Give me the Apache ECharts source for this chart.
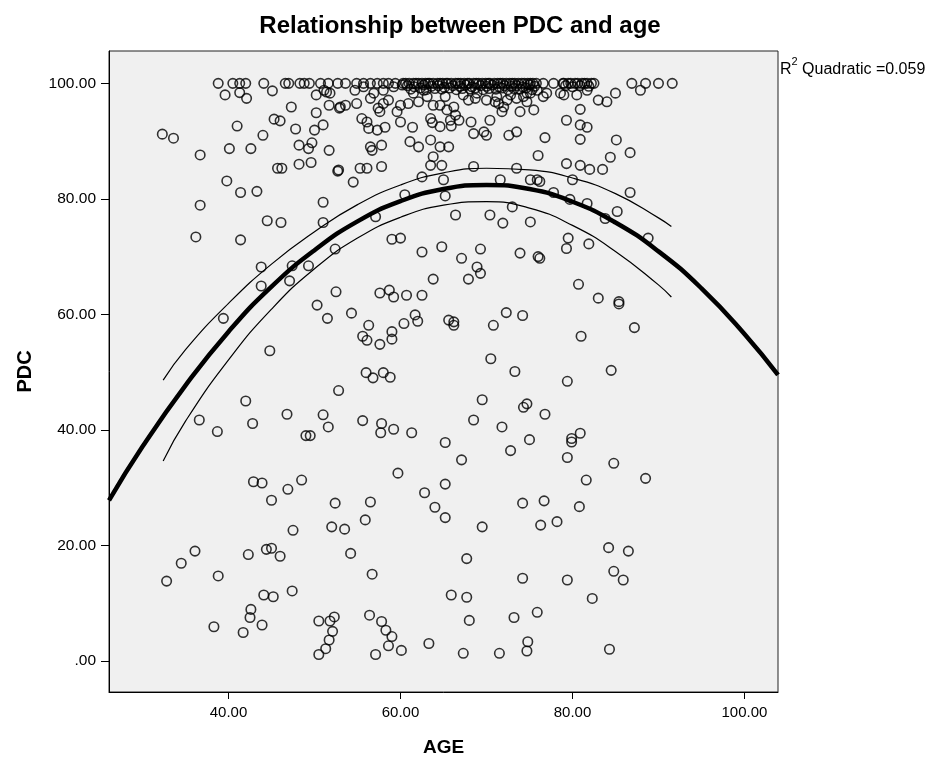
<!DOCTYPE html>
<html>
<head>
<meta charset="utf-8">
<script src="https://cdn.jsdelivr.net/npm/echarts@6/dist/echarts.min.js"></script>
<style>html,body{margin:0;padding:0;background:#fff;}#chart{width:929px;height:758px;}</style>
</head>
<body>
<div id="chart"></div>
<script>
// ---- Data ----
var titleText = 'Relationship between PDC and age';
var xName = 'AGE';
var yName = 'PDC';
var r2Label = 'R';
var r2Sup = '2';
var r2Rest = ' Quadratic =0.059';

var xTicks = [40, 60, 80, 100];
var xTickLabels = ['40.00', '60.00', '80.00', '100.00'];
var yTicks = [0, 20, 40, 60, 80, 100];
var yTickLabels = ['.00', '20.00', '40.00', '60.00', '80.00', '100.00'];

// points at PDC = 100 (top row)
var topRowAges = [38.8, 40.5, 41.3, 42.0, 44.1, 46.6, 47.0, 48.3, 48.8, 49.4, 50.7, 51.6, 52.7, 53.6, 54.9, 55.7, 56.5, 57.3, 58.0, 58.6, 59.4,
  60.3, 60.6, 61.0, 61.5, 61.8, 62.1, 62.5, 62.9, 63.2, 63.4, 63.8, 64.3, 64.6, 64.9, 65.3, 65.5, 65.9, 66.4, 66.7, 67.0, 67.4, 67.8, 68.0, 68.5,
  68.8, 69.1, 69.5, 69.9, 70.2, 70.4, 70.9, 71.3, 71.6, 71.9, 72.3, 72.7, 73.0, 73.3, 73.7, 74.1, 74.4, 74.8, 75.1, 75.4, 75.8,
  76.6, 77.8, 78.9, 79.0, 79.5, 79.8, 80.3, 80.6, 81.1, 81.4, 81.7, 82.2, 82.5, 86.9, 88.5, 90.0, 91.6];
// points just under the top row (PDC about 99.5)
var nearTopAges = [60.8, 61.6, 62.7, 63.6, 64.4, 65.1, 66.1, 66.9, 67.6, 68.3, 69.3, 70.0, 70.7, 71.5, 72.1, 72.9, 73.5, 74.2, 75.0, 75.6, 79.2, 80.0, 80.9, 81.9,
  61.2, 62.3, 63.0, 64.0, 64.8, 65.7, 66.5, 67.2, 68.1, 68.7, 69.6, 70.3, 71.1, 71.8, 72.5, 73.2, 73.9, 74.6, 75.3];
var nearTopPdc = [99.6, 99.4, 99.7, 99.5, 99.6, 99.3, 99.6, 99.5, 99.7, 99.4, 99.6, 99.5, 99.7, 99.4, 99.6, 99.5, 99.6, 99.4, 99.7, 99.5, 99.6, 99.4, 99.6, 99.5,
  99.0, 99.2, 98.9, 99.1, 99.0, 99.2, 98.9, 99.1, 99.0, 99.2, 98.9, 99.1, 99.0, 99.2, 98.9, 99.1, 99.0, 99.2, 98.9];

// all other points (age, PDC)
var otherAges = [
  39.6, 41.3, 42.1, 45.1, 50.2, 51.4, 51.1, 51.8, 47.3, 51.7, 52.9, 50.2, 45.3, 46.0, 41.0, 47.8, 50.0, 51.0, 32.3, 33.6, 44.0, 36.7, 40.1, 42.6, 48.2, 49.3, 49.7, 51.7,
  45.7, 46.2, 48.2, 49.6, 52.7, 39.8, 41.4, 43.3, 36.7, 51.0, 44.5, 46.1, 51.0, 36.2, 41.4, 52.4,
  53.0, 53.6, 54.9, 56.5, 57.4, 57.6, 58.0, 58.6, 59.6, 60.0, 60.9, 55.5, 56.1, 56.3, 57.3, 58.2, 60.0, 61.4, 62.1, 63.1, 63.8, 63.5, 63.7, 64.6, 65.4, 65.8,
  66.4, 66.8, 66.2, 64.6, 65.9, 68.2, 68.5, 67.9, 68.7, 69.7, 70.0, 70.4, 71.0, 71.4, 72.0, 71.8, 72.4, 72.6, 73.5, 73.9, 74.7, 75.5, 74.3, 76.8, 76.6, 75.1, 79.3,
  61.1, 62.1, 63.5, 64.6, 65.6, 56.5, 56.7, 57.8, 63.8, 63.5, 64.8, 52.8, 55.3, 56.1, 57.8, 54.5, 62.5, 65.0, 68.5, 73.5, 76.0, 71.6, 75.1, 75.9, 60.5, 65.2,
  57.1, 66.4, 70.4, 71.9, 73.0, 75.1, 59.0, 60.0, 62.5, 64.8, 67.1, 69.3, 73.9, 76.0,
  54.7, 55.7, 56.9, 58.0, 59.2, 60.2, 61.5, 62.7, 65.2, 67.3, 68.9, 70.0, 71.2, 72.8, 73.5, 74.7, 75.9, 77.0, 78.6,
  79.0, 80.5, 81.7, 83.0, 84.0, 85.0, 87.9, 80.9, 80.9, 81.7, 80.9, 85.1, 86.7, 84.4, 79.3, 80.9, 82.0, 83.5, 80.0, 86.7, 79.7, 81.7, 85.2, 83.8, 88.8, 79.5, 79.3, 81.9,
  76.2, 77.8, 76.2, 80.7, 83.0, 85.4, 85.4,
  87.2, 81.0, 84.5, 79.4, 80.9, 79.9, 79.9, 79.4, 84.8,
  81.6, 88.5, 80.8, 84.2, 86.5, 84.8, 85.9, 79.4, 82.3, 84.3,
  67.1, 59.7, 62.8, 65.2, 64.0, 65.2, 52.4, 56.5, 55.9, 52.0, 53.5, 69.5, 74.2, 76.7, 76.3, 78.2, 54.2, 67.7, 56.7, 74.2, 65.9, 67.7, 68.0, 73.2, 75.9,
  56.4, 57.8, 58.3, 59.0, 58.6, 60.1, 57.1, 63.3, 67.3, 71.5, 74.8, 74.7, 50.5, 51.3, 51.7, 52.1, 51.8, 52.3, 50.5,
  42.9, 43.9, 45.0, 46.9, 48.5, 47.5, 36.1, 34.5, 32.8, 38.8, 42.3, 44.4, 45.0, 46.0, 47.4, 44.1, 45.2, 42.6, 42.5, 38.3, 41.7, 43.9,
  43.8, 47.4, 49.3, 43.8, 47.1, 52.5, 39.4, 50.3, 51.5, 44.8, 52.8, 42.0, 36.6, 38.7, 42.8, 46.8, 51.0, 51.6, 49.0, 49.5,
  68.9, 69.3, 67.9, 63.8, 57.6, 58.7, 59.2, 60.7, 62.5, 54.3, 56.3, 55.6, 56.1, 57.6, 59.0, 59.0, 60.4, 61.7, 62.0, 65.6, 66.2, 66.2, 70.8, 72.3, 74.2,
  70.5, 73.3, 56.0, 56.8, 58.0, 58.8, 69.5, 74.7, 74.3, 76.8, 68.5, 71.8, 75.0, 55.6, 57.8, 57.7, 59.2, 61.3, 65.2, 72.8
];
var otherPdc = [
  98.0, 98.4, 97.4, 98.7, 98.0, 98.5, 98.8, 98.3, 95.9, 96.2, 95.7, 94.9, 93.8, 93.5, 92.6, 92.1, 91.9, 92.8, 91.2, 90.5, 91.0, 87.6, 88.7, 88.7, 89.3, 88.7, 89.7, 88.4,
  85.3, 85.3, 86.0, 86.3, 84.8, 83.1, 81.1, 81.3, 78.9, 79.4, 76.2, 75.9, 75.9, 73.4, 72.9, 71.3,
  95.9, 96.2, 96.5, 97.4, 95.7, 95.1, 96.5, 97.1, 95.1, 96.2, 96.5, 93.9, 93.3, 92.2, 91.9, 92.4, 93.3, 92.4, 96.8, 97.7, 96.2, 93.9, 93.2, 96.2, 95.4, 93.6,
  94.5, 93.6, 95.9, 92.5, 92.6, 93.3, 91.3, 97.1, 97.4, 91.6, 91.0, 93.6, 96.8, 96.5, 95.9, 95.1, 97.1, 91.0, 91.6, 95.1, 96.8, 95.4, 97.7, 90.6, 97.7, 98.3, 93.6,
  89.9, 89.0, 90.2, 89.0, 89.0, 89.0, 88.4, 89.3, 87.3, 85.8, 85.8, 85.0, 85.3, 85.3, 85.6, 82.9, 83.8, 83.3, 85.6, 85.3, 87.5, 83.3, 83.3, 83.3, 80.7, 80.5,
  76.9, 77.2, 77.2, 75.8, 78.6, 76.0, 73.0, 73.2, 70.8, 71.7, 69.7, 71.3, 70.6, 70.0,
  98.8, 99.4, 98.3, 98.8, 99.4, 99.7, 98.3, 98.8, 97.7, 98.0, 98.3, 97.1, 97.7, 98.0, 97.4, 98.3, 98.8, 98.3, 98.3,
  98.0, 98.0, 98.8, 97.1, 96.8, 98.3, 98.8, 95.5, 92.8, 92.4, 90.3, 90.2, 88.0, 87.2, 86.1, 85.8, 85.1, 85.1, 83.3, 81.1, 79.9, 79.2, 77.8, 76.6, 73.2, 73.2, 71.4, 72.2,
  83.0, 81.1, 69.7, 65.2, 62.8, 62.2, 61.8,
  57.7, 56.2, 50.3, 48.4, 39.4, 38.5, 37.9, 35.2, 34.2,
  31.3, 31.6, 26.7, 19.6, 19.0, 15.5, 14.0, 14.0, 10.8, 2.0,
  34.8, 32.5, 29.1, 30.6, 26.6, 24.8, 27.3, 27.5, 24.4, 23.2, 22.8, 23.2, 27.3, 27.7, 23.5, 24.1, 18.6, 17.7, 15.0, 14.3, 11.4, 11.0, 7.0, 7.5, 8.4,
  7.9, 6.8, 5.3, 4.2, 2.6, 1.8, 1.1, 3.0, 1.3, 1.3, 3.3, 1.7, 1.1, 2.1, 3.6, 5.1, 6.9, 7.6, 6.9,
  31.0, 30.8, 27.8, 29.7, 31.3, 22.6, 19.0, 16.9, 13.8, 14.7, 18.4, 19.3, 19.5, 18.1, 12.1, 11.4, 11.1, 8.9, 7.5, 5.9, 4.9, 6.2,
  68.2, 68.4, 68.4, 64.9, 65.8, 63.9, 59.3, 61.6, 59.3, 53.7, 46.8, 45.0, 41.7, 39.7, 41.1, 42.7, 42.6, 40.5, 39.0, 39.0,
  68.2, 67.1, 66.1, 66.1, 63.7, 64.2, 63.0, 63.3, 63.3, 60.2, 58.1, 56.2, 55.5, 54.8, 57.0, 55.7, 58.4, 59.9, 58.8, 59.0, 58.7, 58.1, 58.1, 60.3, 59.8,
  52.3, 50.1, 49.9, 49.0, 49.9, 49.1, 45.2, 44.5, 43.9, 42.7, 41.7, 40.5, 38.3, 41.6, 41.1, 39.5, 40.1, 39.5, 37.8, 36.4
];

// quadratic fit line
var fitAges = [26.1, 30, 35, 40, 45, 50, 55, 60, 65, 70, 75, 80, 85, 90, 95, 100, 103.9];
var fitPdc = [27.8, 37.1, 47.7, 57.0, 64.8, 71.1, 76.1, 79.6, 81.7, 82.4, 81.7, 79.5, 75.9, 70.9, 64.5, 56.6, 49.5];
// confidence band lines
var bandAges = [32.4, 35, 40, 45, 50, 55, 60, 65, 70, 75, 80, 85, 90, 91.5];
var upperPdc = [48.6, 53.9, 61.9, 68.7, 74.3, 79.0, 82.4, 84.5, 85.3, 85.0, 83.6, 80.9, 76.7, 75.2];
var lowerPdc = [34.6, 41.5, 52.1, 60.9, 67.9, 73.2, 76.8, 78.9, 79.5, 78.4, 75.4, 70.9, 65.1, 63.0];

// ---- Build ----
function zip(a, b) { var out = []; for (var i = 0; i < a.length; i++) out.push([a[i], b[i]]); return out; }
var scatterData = [];
topRowAges.forEach(function (a) { scatterData.push([a, 100]); });
scatterData = scatterData.concat(zip(nearTopAges, nearTopPdc), zip(otherAges, otherPdc));

var FONT = '"Liberation Sans", Arial, sans-serif';
var chart = echarts.init(document.getElementById('chart'), null, { renderer: 'canvas' });
chart.setOption({
  animation: false,
  backgroundColor: '#ffffff',
  graphic: [{
    type: 'text', x: 460, y: 14,
    style: { text: titleText, font: 'bold 24px ' + FONT, fill: '#000', align: 'center', verticalAlign: 'top' }
  }, {
    type: 'text', left: 780, top: 56,
    style: {
      text: '{a|' + r2Label + '}{b|' + r2Sup + '}{a|' + r2Rest + '}',
      rich: {
        a: { fontFamily: FONT, fontSize: 16, lineHeight: 22, verticalAlign: 'bottom', fill: '#000' },
        b: { fontFamily: FONT, fontSize: 11, lineHeight: 12, verticalAlign: 'top', fill: '#000' }
      }
    }
  }],
  grid: { left: 109, right: 151, top: 51, bottom: 66, outerBoundsMode: 'none', containLabel: false,
    show: true, backgroundColor: '#f0f0f0', borderColor: '#222', borderWidth: 1 },
  xAxis: {
    type: 'value', min: 26.1, max: 103.9,
    name: xName, nameLocation: 'middle', nameGap: 46,
    nameTextStyle: { fontFamily: FONT, fontSize: 19, fontWeight: 'bold', color: '#000' },
    axisLine: { show: true, onZero: false, lineStyle: { color: '#000', width: 1 } },
    axisTick: { show: true, length: 7, customValues: xTicks, lineStyle: { color: '#000', width: 1 } },
    axisLabel: { customValues: xTicks, margin: 13, fontFamily: FONT, fontSize: 15, color: '#000',
      formatter: function (v) { var i = xTicks.indexOf(v); return i >= 0 ? xTickLabels[i] : ''; } },
    splitLine: { show: false }
  },
  yAxis: {
    type: 'value', min: -5.4, max: 105.6,
    name: yName, nameLocation: 'middle', nameGap: 74, nameRotate: 90,
    nameTextStyle: { fontFamily: FONT, fontSize: 20, fontWeight: 'bold', color: '#000' },
    axisLine: { show: true, onZero: false, lineStyle: { color: '#000', width: 1 } },
    axisTick: { show: true, length: 8, customValues: yTicks, lineStyle: { color: '#000', width: 1 } },
    axisLabel: { customValues: yTicks, margin: 13, fontFamily: FONT, fontSize: 15.5, color: '#000',
      formatter: function (v) { var i = yTicks.indexOf(v); return i >= 0 ? yTickLabels[i] : ''; } },
    splitLine: { show: false }
  },
  series: [
    {
      type: 'scatter', data: scatterData, symbol: 'circle', symbolSize: 9.5, z: 2,
      itemStyle: { color: 'rgba(0,0,0,0)', borderColor: '#000', borderWidth: 1.6 },
      emphasis: { disabled: true }
    },
    {
      type: 'line', data: zip(fitAges, fitPdc), smooth: true, showSymbol: false, z: 4,
      lineStyle: { color: '#000', width: 4.5 }, emphasis: { disabled: true }
    },
    {
      type: 'line', data: zip(bandAges, upperPdc), smooth: true, showSymbol: false, z: 3,
      lineStyle: { color: '#000', width: 1.2 }, emphasis: { disabled: true }
    },
    {
      type: 'line', data: zip(bandAges, lowerPdc), smooth: true, showSymbol: false, z: 3,
      lineStyle: { color: '#000', width: 1.2 }, emphasis: { disabled: true }
    }
  ]
});
</script>
</body>
</html>
